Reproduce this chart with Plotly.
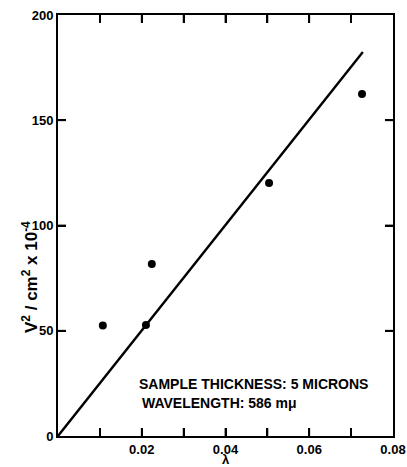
import plotly.graph_objects as go

# Data
lam = [0.0107, 0.0210, 0.0224, 0.0504, 0.0726]
v2 = [52.5, 52.7, 81.7, 120.2, 162.5]
fit_x = [0.0, 0.0728]
fit_y = [0.0, 182.4]

x_tickvals = [0, 0.01, 0.02, 0.03, 0.04, 0.05, 0.06, 0.07, 0.08]
x_ticktext = ["", "", "0.02", "", "0.04", "", "0.06", "", "0.08"]
y_tickvals = [0, 50, 100, 150, 200]
y_ticktext = ["0", "50", "100", "150", "200"]

FAM = "Liberation Sans, Arial, sans-serif"
tick_font = dict(family=FAM, size=13, color="black")
font = dict(family=FAM, size=13, color="black", weight="bold")
note_font = dict(family=FAM, size=14, color="black", weight="bold")

PLOT_W, PLOT_H, TICK_PX = 335, 421, 8

fig = go.Figure()
fig.add_trace(go.Scatter(x=fit_x, y=fit_y, mode="lines",
                         line=dict(color="black", width=2.4), showlegend=False))
fig.add_trace(go.Scatter(x=lam, y=v2, mode="markers",
                         marker=dict(color="black", size=8), showlegend=False))

axis_common = dict(showline=True, linecolor="black", linewidth=2, mirror="ticks",
                   ticks="inside", ticklen=TICK_PX, tickwidth=2, tickcolor="black",
                   zeroline=False, tickfont=tick_font)

fig.update_xaxes(range=[0, 0.08], tickvals=x_tickvals,
                 ticktext=["<b>%s</b>" % t if t else "" for t in x_ticktext], **axis_common)
fig.update_yaxes(range=[0, 200], tickvals=y_tickvals,
                 ticktext=["<b>%s</b>" % t for t in y_ticktext], **axis_common)

# tick marks on all four sides, placed through the axes' own scales
tick_line = dict(color="black", width=1.8)
for xv in x_tickvals[1:-1]:
    fig.add_shape(type="line", xref="x", yref="paper", x0=xv, x1=xv,
                  y0=0, y1=TICK_PX / PLOT_H, line=tick_line)
    fig.add_shape(type="line", xref="x", yref="paper", x0=xv, x1=xv,
                  y0=1 - TICK_PX / PLOT_H, y1=1, line=tick_line)
for yv in y_tickvals[1:-1]:
    fig.add_shape(type="line", xref="paper", yref="y", x0=0, x1=TICK_PX / PLOT_W,
                  y0=yv, y1=yv, line=tick_line)
    fig.add_shape(type="line", xref="paper", yref="y", x0=1 - TICK_PX / PLOT_W, x1=1,
                  y0=yv, y1=yv, line=tick_line)

fig.add_annotation(text="SAMPLE THICKNESS: 5 MICRONS", xref="paper", yref="paper",
                   x=(137 - 58) / 335, y=(436 - 384) / 421, xanchor="left", yanchor="middle",
                   showarrow=False, font=note_font)
fig.add_annotation(text="WAVELENGTH: 586 mμ", xref="paper", yref="paper",
                   x=(140 - 58) / 335, y=(436 - 403) / 421, xanchor="left", yanchor="middle",
                   showarrow=False, font=note_font)
fig.add_annotation(text="λ", xref="paper", yref="paper", x=0.5, y=-(459 - 436) / 421,
                   xanchor="center", yanchor="middle", showarrow=False, font=font)
fig.add_annotation(text="V<sup>2</sup> / cm<sup>2</sup> x 10<sup>-4</sup>", xref="paper", yref="paper",
                   x=-(58 - 30) / 335, y=(436 - 277) / 421, xanchor="center", yanchor="middle",
                   textangle=-90, showarrow=False,
                   font=dict(family=FAM, size=17, color="black", weight="bold"))

fig.update_layout(width=407, height=467, margin=dict(l=58, r=14, t=15, b=31, autoexpand=False),
                  plot_bgcolor="rgba(0,0,0,0)", paper_bgcolor="white",
                  xaxis_showgrid=False, yaxis_showgrid=False)

fig.write_html("out.html", config={"displayModeBar": False},
               post_script="document.body.style.margin='0px';document.body.style.overflow='hidden';")
